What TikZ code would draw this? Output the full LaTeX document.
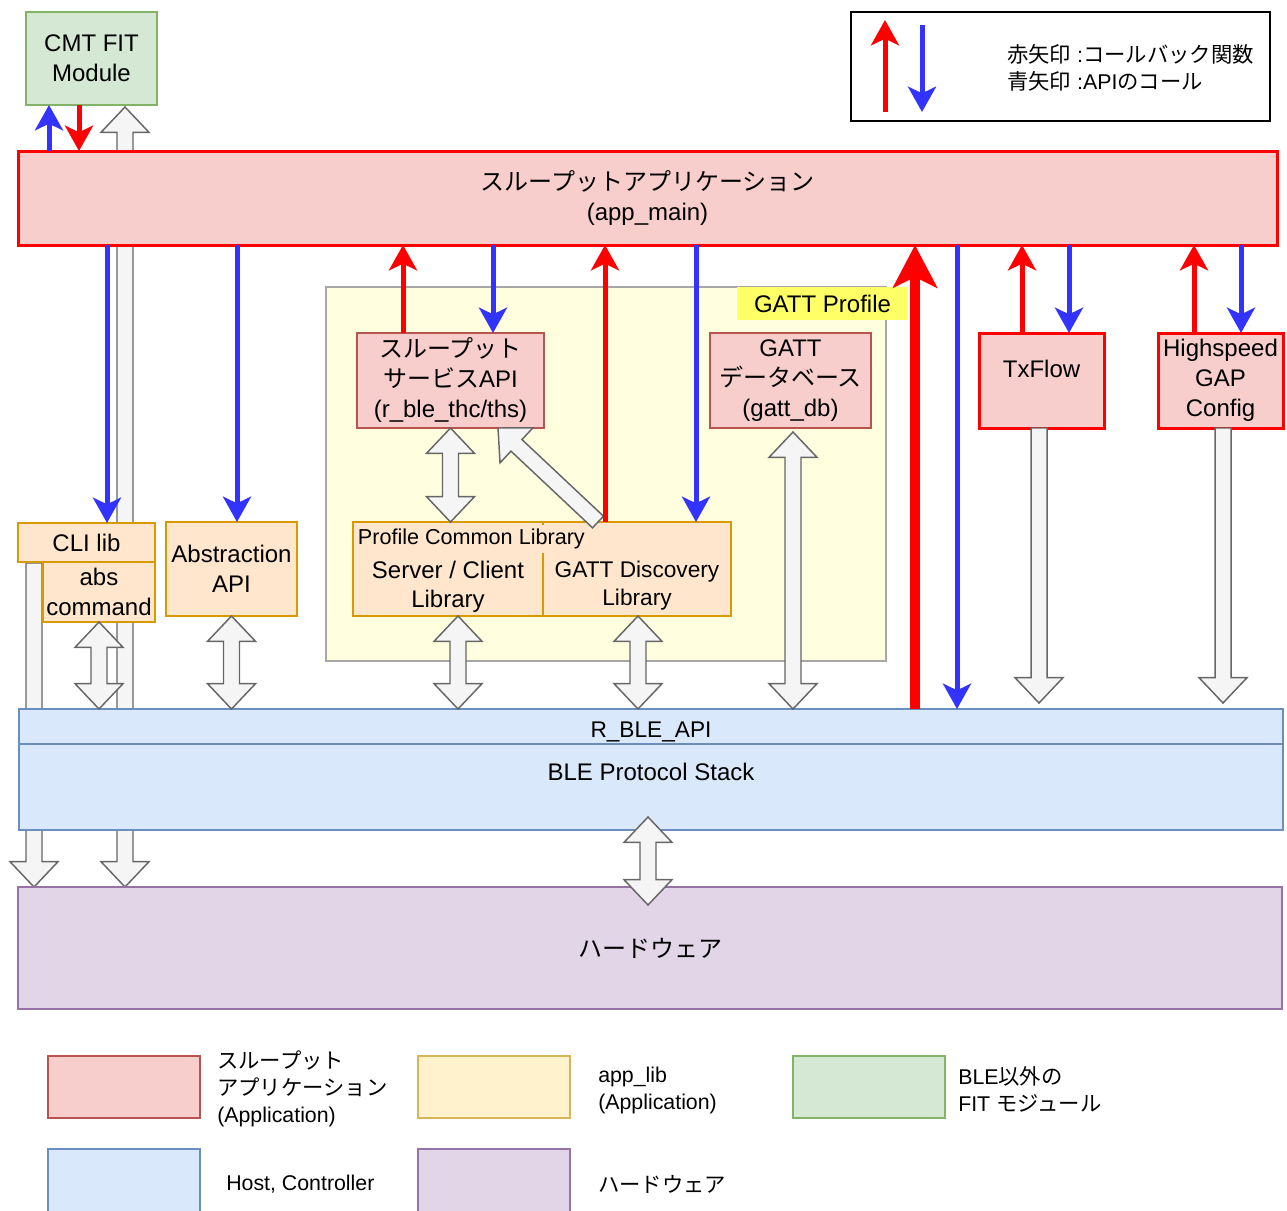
\documentclass[tikz,border=0pt]{standalone}
\usepackage{fontspec}
\setmainfont{Liberation Sans}
\newfontfamily\jp{Noto Sans CJK JP}
\usetikzlibrary{arrows.meta,calc,backgrounds}
\definecolor{apppink}{HTML}{F8CECC}
\definecolor{appline}{HTML}{B85450}
\definecolor{liborange}{HTML}{FFE6CC}
\definecolor{libline}{HTML}{D79B00}
\definecolor{hostblue}{HTML}{DAE8FC}
\definecolor{hostline}{HTML}{6C8EBF}
\definecolor{hwpurple}{HTML}{E1D5E7}
\definecolor{hwline}{HTML}{9673A6}
\definecolor{fitgreen}{HTML}{D5E8D4}
\definecolor{fitline}{HTML}{82B366}
\definecolor{applib}{HTML}{FFF2CC}
\definecolor{appliblinecol}{HTML}{D6B656}
\definecolor{profbg}{HTML}{FFFFE0}
\definecolor{profline}{HTML}{A6A6A6}
\definecolor{proflabel}{HTML}{FFFF66}
\definecolor{cbred}{HTML}{FF0000}
\definecolor{apiblue}{HTML}{3333FF}
\definecolor{fatgray}{HTML}{F5F5F5}
\definecolor{fatedge}{HTML}{666666}

\begin{document}
\begin{tikzpicture}[x=0.75pt,y=-0.75pt,
    box/.style={draw,line width=1pt,inner sep=0pt,outer sep=0pt,align=center,
      font=\fontsize{18}{22.5}\selectfont},
    sz/.style 2 args={minimum width=#1*0.75pt,minimum height=#2*0.75pt},
    pinkbox/.style={box,fill=apppink,draw=appline},
    redbox/.style={box,fill=apppink,draw=cbred,line width=2.25pt},
    libbox/.style={box,fill=liborange,draw=libline},
    hostbox/.style={box,fill=hostblue,draw=hostline},
    hwbox/.style={box,fill=hwpurple,draw=hwline},
    fitbox/.style={box,fill=fitgreen,draw=fitline},
    keytext/.style={anchor=west,align=left,inner sep=0pt,font=\fontsize{16}{20.25}\selectfont},
    cb/.style={draw=cbred,line width=3.75pt,-{Stealth[length=19pt,width=21pt,inset=5pt]}},
    api/.style={draw=apiblue,line width=3.75pt,-{Stealth[length=19pt,width=21pt,inset=5pt]}},
    fat/.style={draw=fatedge,fill=fatgray,line width=1.1pt},
    fatdbl/.style={to path={let \p1=($(\tikztostart)!18pt!90:(\tikztotarget)-(\tikztostart)$),
        \p2=($(\tikztostart)!6pt!90:(\tikztotarget)-(\tikztostart)$),
        \p3=($(\tikztostart)!19pt!(\tikztotarget)$),
        \p4=($(\tikztotarget)!19pt!(\tikztostart)$) in
        -- ($(\p3)+(\p1)$) -- ($(\p3)+(\p2)$) -- ($(\p4)+(\p2)$) -- ($(\p4)+(\p1)$)
        -- (\tikztotarget) -- ($(\p4)-(\p1)$) -- ($(\p4)-(\p2)$) -- ($(\p3)-(\p2)$)
        -- ($(\p3)-(\p1)$) -- cycle}},
    fatone/.style={to path={let \p1=($(\tikztostart)!18pt!90:(\tikztotarget)-(\tikztostart)$),
        \p2=($(\tikztostart)!6pt!90:(\tikztotarget)-(\tikztostart)$),
        \p4=($(\tikztotarget)!19pt!(\tikztostart)$) in
        ($(\tikztostart)+(\p2)$) -- ($(\p4)+(\p2)$) -- ($(\p4)+(\p1)$) -- (\tikztotarget)
        -- ($(\p4)-(\p1)$) -- ($(\p4)-(\p2)$) -- ($(\tikztostart)-(\p2)$) -- cycle}}]
  \useasboundingbox (0,0) rectangle (1287,1210);

  \node[fitbox,sz={131}{93}] (cmt) at (91.5,58.5) {CMT FIT\\Module};
  \node[redbox,sz={1259}{94}] (app) at (647.5,198) {{\jp スループットアプリケーション}\\(app\_main)};
  \node[box,draw=black,sz={419}{109}] (key) at (1060.5,66.5) {};
  \node[keytext] (keynote) at ([shift={(-53.5,1)}]key.center)
    {{\jp 赤矢印} :{\jp コールバック関数}\\{\jp 青矢印} :API{\jp のコール}};

  \node[box,fill=profbg,draw=profline,sz={560}{374}] (prof) at (606,474) {};
  \node[box,fill=proflabel,draw=none,sz={171}{33}] (proflbl) at (822.5,303.5) {GATT Profile};
  \node[pinkbox,sz={187}{95}] (thc) at (450.5,380.5) {{\jp スループット}\\{\jp サービス}API\\(r\_ble\_thc/ths)};
  \node[pinkbox,sz={161}{95}] (gattdb) at (790.5,380.5) {GATT\\{\jp データベース}\\(gatt\_db)};
  \node[libbox,sz={378}{94}] (pcl) at (542,569) {};
  \draw[draw=libline,line width=1pt] ([shift={(1,0)}]pcl.north) -- ([shift={(1,0)}]pcl.south);
  \node[anchor=west,fill=liborange,inner xsep=2pt,inner ysep=3pt,font=\fontsize{16.2}{18}\selectfont]
    (pcltitle) at ([shift={(2,17)}]pcl.north west) {Profile Common Library};
  \node[align=center,font=\fontsize{18}{22}\selectfont] (scl) at ([shift={(-94,18)}]pcl.center) {Server / Client\\Library};
  \node[align=center,font=\fontsize{17}{21}\selectfont] (disc) at ([shift={(95,17)}]pcl.center) {GATT Discovery\\Library};

  \node[libbox,sz={137}{39}] (cli) at (86.5,542.5) {CLI lib};
  \node[libbox,sz={112}{60}] (abs) at (99,592) {abs\\command};
  \node[libbox,sz={131}{94}] (absapi) at (231.5,569) {Abstraction\\API};

  \node[redbox,sz={125}{95},text height=13pt,text depth=17.5pt] (tx) at (1041.5,380.5) {TxFlow};
  \node[redbox,sz={125}{95}] (hs) at (1220.5,380.5) {Highspeed\\GAP\\Config};

  \node[hostbox,sz={1264}{35},font=\fontsize{17}{20}\selectfont,text height=15.8pt,text depth=0pt] (rbleapi) at (651,726.5) {R\_BLE\_API};
  \node[hostbox,sz={1264}{86},text height=13pt,text depth=23pt] (stack) at (651,787) {BLE Protocol Stack};
  \node[hwbox,sz={1264}{122}] (hw) at (650,948) {{\jp ハードウェア}};

  \node[pinkbox,sz={152}{62}] (kapp) at (124,1087) {};
  \node[keytext] (kapptext) at ([shift={(93,2)}]kapp.center) {{\jp スループット}\\{\jp アプリケーション}\\(Application)};
  \node[box,fill=applib,draw=appliblinecol,sz={152}{62}] (klib) at (494,1087) {};
  \node[keytext] (klibtext) at ([shift={(104,3)}]klib.center) {app\_lib\\(Application)};
  \node[fitbox,sz={152}{62}] (kfit) at (869,1087) {};
  \node[keytext] (kfittext) at ([shift={(89,2)}]kfit.center) {BLE{\jp 以外の}\\FIT {\jp モジュール}};
  \node[hostbox,sz={152}{66}] (khost) at (124,1182) {};
  \node[keytext] (khosttext) at ([shift={(102,2)}]khost.center) {Host, Controller};
  \node[hwbox,sz={152}{66}] (khw) at (494,1182) {};
  \node[keytext] (khwtext) at ([shift={(104,2)}]khw.center) {{\jp ハードウェア}};

  \begin{scope}[on background layer]
    \draw[fat] ([shift={(-525,0)}]hw.north) to[fatdbl] ([shift={(33.5,2)}]cmt.south);
    \draw[fat] ([shift={(-52.5,1)}]cli.south) to[fatone] ([shift={(-616,0)}]hw.north);
  \end{scope}

  \draw[fat] (abs.south) to[fatdbl] (abs.south |- rbleapi.north);
  \draw[fat] (absapi.south) to[fatdbl] (absapi.south |- rbleapi.north);
  \draw[fat] (thc.south) to[fatdbl] (thc.south |- pcl.north);
  \draw[fat] ([shift={(56,0)}]pcl.north) to[fatone] ([shift={(47.5,0)}]thc.south);
  \draw[fat] ([shift={(-84,0)}]pcl.south) to[fatdbl] ([shift={(-193,0)}]rbleapi.north);
  \draw[fat] ([shift={(96,0)}]pcl.south) to[fatdbl] ([shift={(-13,0)}]rbleapi.north);
  \draw[fat] ([shift={(2.5,4)}]gattdb.south) to[fatdbl] ([shift={(142,0)}]rbleapi.north);
  \draw[fat] ([shift={(-2.5,0)}]tx.south) to[fatone] ([shift={(388,-6)}]rbleapi.north);
  \draw[fat] ([shift={(2.5,0)}]hs.south) to[fatone] ([shift={(572,-6)}]rbleapi.north);
  \draw[fat] ([shift={(-3,-13)}]stack.south) to[fatdbl] ([shift={(-2,18)}]hw.north);

  \coordinate (u1) at ([shift={(-42.5,0)}]cmt.south);
  \coordinate (d1) at ([shift={(-12.5,0)}]cmt.south);
  \draw[api] (u1 |- app.north) -- (u1);
  \draw[cb] (d1) -- (d1 |- app.north);

  \coordinate (b1) at ([shift={(20.5,0)}]cli.north);
  \coordinate (b2) at ([shift={(5.5,0)}]absapi.north);
  \coordinate (b3) at ([shift={(42.5,0)}]thc.north);
  \coordinate (b4) at ([shift={(154,0)}]pcl.north);
  \coordinate (b5) at ([shift={(306,0)}]rbleapi.north);
  \coordinate (b6) at ([shift={(27.5,0)}]tx.north);
  \coordinate (b7) at ([shift={(20.5,0)}]hs.north);
  \draw[api] (b1 |- app.south) -- (b1);
  \draw[api] (b2 |- app.south) -- (b2);
  \draw[api] (b3 |- app.south) -- (b3);
  \draw[api] (b4 |- app.south) -- (b4);
  \draw[api] (b5 |- app.south) -- (b5);
  \draw[api] (b6 |- app.south) -- (b6);
  \draw[api] (b7 |- app.south) -- (b7);

  \coordinate (r1) at ([shift={(-47.5,0)}]thc.north);
  \coordinate (r2) at ([shift={(63,0)}]pcl.north);
  \coordinate (r3) at ([shift={(264,0)}]rbleapi.north);
  \coordinate (r4) at ([shift={(-19.5,0)}]tx.north);
  \coordinate (r5) at ([shift={(-26.5,0)}]hs.north);
  \draw[cb] (r1) -- (r1 |- app.south);
  \draw[cb] (r2) -- (r2 |- app.south);
  \draw[cb,line width=7.5pt,-{Stealth[length=32pt,width=33pt,inset=8pt]}] (r3) -- (r3 |- app.south);
  \draw[cb] (r4) -- (r4 |- app.south);
  \draw[cb] (r5) -- (r5 |- app.south);

  \draw[cb] ([shift={(-175.5,45.5)}]key.center) -- ([shift={(-175.5,-46.5)}]key.center);
  \draw[api] ([shift={(-138.5,-41.5)}]key.center) -- ([shift={(-138.5,45.5)}]key.center);
\end{tikzpicture}
\end{document}
